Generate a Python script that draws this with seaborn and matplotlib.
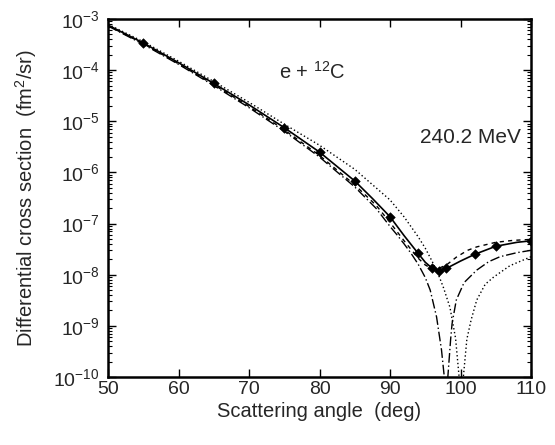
import numpy as np
import pandas as pd
import matplotlib
matplotlib.use("Agg")
import matplotlib.pyplot as plt
import seaborn as sns
from matplotlib.ticker import LogLocator, NullFormatter

# curves (angle in deg, cross section in fm^2/sr)
solid_x = [50, 55, 60, 65, 70, 75, 80, 85, 87.5, 90, 92, 94, 95, 96, 97, 98, 100, 102, 105, 108, 110]
solid_y = [7.6e-4, 3.4e-4, 1.4e-4, 5.5e-5, 2.1e-5, 7.5e-6, 2.5e-6, 6.8e-7, 3.1e-7, 1.36e-7,
           5.8e-8, 2.6e-8, 1.75e-8, 1.33e-8, 1.17e-8, 1.33e-8, 1.85e-8, 2.5e-8, 3.6e-8, 4.3e-8, 4.6e-8]

dashed_x = [50, 55, 60, 65, 70, 75, 80, 85, 88, 90, 92, 93, 94, 95, 96, 97, 98, 99.4, 101, 102.3, 105, 107.5, 110]
dashed_y = [7.4e-4, 3.3e-4, 1.33e-4, 5.2e-5, 1.95e-5, 6.8e-6, 2.15e-6, 5.7e-7, 2.3e-7, 1.05e-7,
            4.6e-8, 3.1e-8, 2.1e-8, 1.55e-8, 1.3e-8, 1.35e-8, 1.55e-8, 2.2e-8, 3.0e-8, 3.5e-8,
            4.3e-8, 4.7e-8, 4.9e-8]

dashdot_x = [50, 55, 60, 65, 70, 75, 80, 85, 88, 90, 91, 92, 93, 94, 95, 95.7, 96.6, 97.3, 97.7,
             97.95, 98.2, 98.6, 98.8, 99.4, 100.5, 102.3, 104, 105.6, 108, 110]
dashdot_y = [7.3e-4, 3.2e-4, 1.3e-4, 5.0e-5, 1.85e-5, 6.4e-6, 2.0e-6, 5.2e-7, 2.0e-7, 8.8e-8,
             6e-8, 4e-8, 2.6e-8, 1.6e-8, 8.8e-9, 5e-9, 1.5e-9, 3.4e-10, 1.0e-10,
             1e-12, 1.0e-10, 5.5e-10, 1.1e-9, 3.2e-9, 7e-9, 1.23e-8, 1.8e-8, 2.25e-8, 2.7e-8, 3.0e-8]

dotted_x = [50, 55, 60, 65, 70, 75, 80, 85, 90, 92, 94, 95, 96, 97, 97.6, 98.5, 99.3, 99.8,
            100.1, 100.4, 100.9, 101.5, 102.3, 103.5, 104.7, 107, 110]
dotted_y = [7.9e-4, 3.6e-4, 1.5e-4, 6.0e-5, 2.35e-5, 8.8e-6, 3.4e-6, 1.15e-6, 2.9e-7, 1.35e-7,
            5.5e-8, 3.3e-8, 1.8e-8, 9e-9, 5.5e-9, 2.3e-9, 5.7e-10, 1.0e-10,
            1e-12, 1.0e-10, 5.5e-10, 1.3e-9, 3.2e-9, 6.5e-9, 9e-9, 1.5e-8, 2.25e-8]

# data points (diamonds)
pts_x = [55, 65, 75, 80, 85, 90, 94, 96, 97, 98, 102, 105, 110]
pts_y = [3.35e-4, 5.5e-5, 7.5e-6, 2.47e-6, 6.8e-7, 1.36e-7, 2.6e-8, 1.33e-8, 1.17e-8, 1.33e-8,
         2.5e-8, 3.6e-8, 4.6e-8]

sns.set_style("ticks")
plt.rcParams['font.family'] = ['Liberation Sans', 'DejaVu Sans']
plt.rcParams['mathtext.fontset'] = 'custom'
plt.rcParams['mathtext.rm'] = 'Liberation Sans'
plt.rcParams['mathtext.it'] = 'Liberation Sans'

fig = plt.figure(figsize=(5.55, 4.45), dpi=100)
ax = fig.add_axes([0.1946, 0.1528, 0.7622, 0.8045])

sns.lineplot(x=dotted_x, y=dotted_y, ax=ax, color="black", lw=1.0, linestyle=(0, (1, 1.8)),
             sort=False, estimator=None)
sns.lineplot(x=dashdot_x, y=dashdot_y, ax=ax, color="black", lw=1.0, linestyle=(0, (7, 2, 1, 2)),
             sort=False, estimator=None)
sns.lineplot(x=dashed_x, y=dashed_y, ax=ax, color="black", lw=1.0, linestyle=(0, (3, 3)),
             sort=False, estimator=None)
sns.lineplot(x=solid_x, y=solid_y, ax=ax, color="black", lw=1.2, sort=False, estimator=None)
sns.scatterplot(x=pts_x, y=pts_y, ax=ax, marker="D", s=24, color="black", edgecolor="black",
                zorder=5)

ax.set_yscale("log")
ax.set_xlim(50, 110)
ax.set_ylim(1e-10, 1e-3)
ax.set_xticks([50, 60, 70, 80, 90, 100, 110])
ax.yaxis.set_major_locator(LogLocator(base=10, numticks=20))
ax.yaxis.set_minor_locator(LogLocator(base=10, subs=np.arange(2, 10), numticks=20))
ax.yaxis.set_minor_formatter(NullFormatter())

ax.tick_params(which="both", direction="in", top=True, right=True, labelsize=14, color="black")
ax.tick_params(which="major", length=6, width=1)
ax.tick_params(which="minor", length=3, width=0.8)
ax.tick_params(axis="x", which="major", pad=3)
ax.tick_params(axis="y", which="major", pad=6)
for sp in ax.spines.values():
    sp.set_linewidth(1.8)
    sp.set_color("black")

ax.set_xlabel("Scattering angle  (deg)", fontsize=14.5, labelpad=3)
ax.set_ylabel("Differential cross section  (fm$^2$/sr)", fontsize=14.5, labelpad=10)

ax.text(0.483, 0.852, "e + $^{12}$C", transform=ax.transAxes, ha="center", va="center", fontsize=14.5)
ax.text(0.976, 0.668, "240.2 MeV", transform=ax.transAxes, ha="right", va="center", fontsize=15)

fig.savefig("out.png", dpi=100)
